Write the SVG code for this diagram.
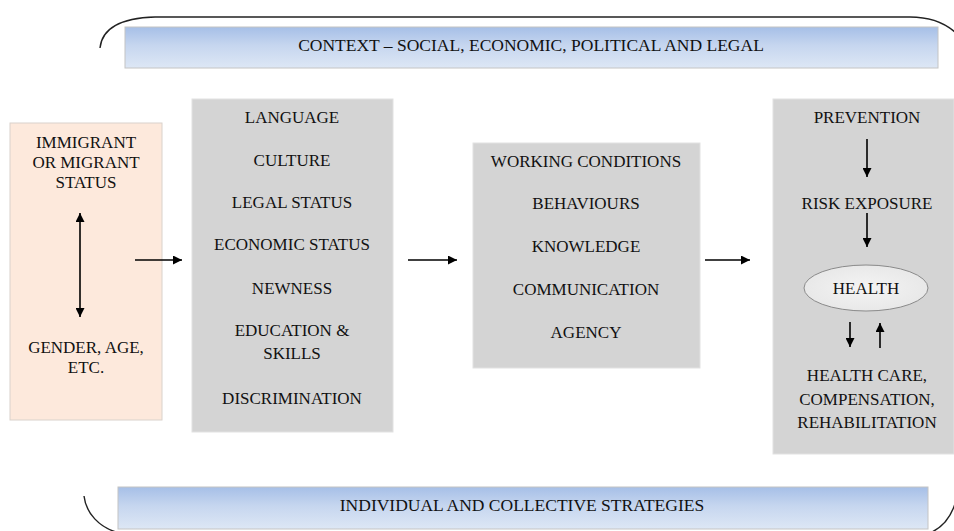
<svg xmlns="http://www.w3.org/2000/svg" width="954" height="531" viewBox="0 0 954 531">
  <defs>
    <linearGradient id="bannerFill" x1="0" y1="0" x2="0" y2="1">
      <stop offset="0" stop-color="#a6bfe7"/>
      <stop offset="0.45" stop-color="#c6d6ef"/>
      <stop offset="1" stop-color="#dde7f5"/>
    </linearGradient>
    <radialGradient id="healthFill" cx="0.5" cy="0.5" r="0.6">
      <stop offset="0" stop-color="#f4f4f4"/>
      <stop offset="1" stop-color="#e6e6e6"/>
    </radialGradient>
    <marker id="head" viewBox="0 0 10 10" markerUnits="userSpaceOnUse" markerWidth="9" markerHeight="9" refX="10" refY="5" orient="auto-start-reverse">
      <path d="M0,0 L10,5 L0,10 z" fill="#000"/>
    </marker>
  </defs>
  <style>
    text { font-family: "Liberation Serif", "Times New Roman", serif; font-size: 17px; fill: #111; text-anchor: middle; }
    .banner-text { font-size: 17.5px; }
    .banner { fill: url(#bannerFill); stroke: #c4c4c4; stroke-width: 1; }
    .grey { fill: #d4d4d4; stroke: #e2e2e2; stroke-width: 1; }
    .peach { fill: #fde9dc; stroke: #d9d2cc; stroke-width: 1; }
    .bracket { fill: none; stroke: #222; stroke-width: 1.4; }
    .arrow { fill: none; stroke: #000; stroke-width: 1.6; marker-end: url(#head); }
    .double { marker-start: url(#head); }
  </style>

  <rect width="954" height="531" fill="#ffffff"/>

  <!-- enclosing brackets -->
  <g id="brackets">
    <path class="bracket" d="M100,48 C102,28 122,18 155,17 L910,17 C930,17 944,22 956,33"/>
    <path class="bracket" d="M84,496 C86,514 100,527 116,532"/>
    <path class="bracket" d="M932,532 C944,526 952,516 956,500"/>
  </g>

  <g id="context">
    <rect class="banner" x="125" y="27" width="813" height="41"/>
    <text class="banner-text" x="531" y="51">CONTEXT – SOCIAL, ECONOMIC, POLITICAL AND LEGAL</text>
  </g>

  <g id="strategies">
    <rect class="banner" x="118" y="487" width="810" height="42"/>
    <text class="banner-text" x="522" y="511">INDIVIDUAL AND COLLECTIVE STRATEGIES</text>
  </g>

  <g id="status">
    <rect class="peach" x="10" y="123" width="152" height="297"/>
    <text x="86" y="148">IMMIGRANT</text>
    <text x="86" y="168">OR MIGRANT</text>
    <text x="86" y="188">STATUS</text>
    <text x="86" y="353">GENDER, AGE,</text>
    <text x="86" y="373">ETC.</text>
  </g>

  <g id="factors">
    <rect class="grey" x="192" y="99" width="201" height="333"/>
    <text x="292" y="123">LANGUAGE</text>
    <text x="292" y="166">CULTURE</text>
    <text x="292" y="208">LEGAL STATUS</text>
    <text x="292" y="250">ECONOMIC STATUS</text>
    <text x="292" y="294">NEWNESS</text>
    <text x="292" y="336">EDUCATION &amp;</text>
    <text x="292" y="359">SKILLS</text>
    <text x="292" y="404">DISCRIMINATION</text>
  </g>

  <g id="conditions">
    <rect class="grey" x="473" y="143" width="227" height="225"/>
    <text x="586" y="167">WORKING CONDITIONS</text>
    <text x="586" y="209">BEHAVIOURS</text>
    <text x="586" y="252">KNOWLEDGE</text>
    <text x="586" y="295">COMMUNICATION</text>
    <text x="586" y="338">AGENCY</text>
  </g>

  <g id="outcomes">
    <rect class="grey" x="773" y="99" width="181" height="355"/>
    <text x="867" y="123">PREVENTION</text>
    <text x="867" y="209">RISK EXPOSURE</text>
    <text x="867" y="381">HEALTH CARE,</text>
    <text x="867" y="405">COMPENSATION,</text>
    <text x="867" y="428">REHABILITATION</text>
  </g>

  <g id="health">
    <ellipse cx="866" cy="288" rx="62" ry="23" fill="url(#healthFill)" stroke="#8a8a8a" stroke-width="1"/>
    <text x="866" y="294">HEALTH</text>
  </g>

  <g id="connectors">
    <line class="arrow double" x1="80" y1="213" x2="80" y2="317"/>
    <line class="arrow" x1="135" y1="260" x2="182" y2="260"/>
    <line class="arrow" x1="408" y1="260" x2="457" y2="260"/>
    <line class="arrow" x1="705" y1="260" x2="750" y2="260"/>
    <line class="arrow" x1="867" y1="139" x2="867" y2="177"/>
    <line class="arrow" x1="867" y1="213" x2="867" y2="247"/>
    <line class="arrow" x1="850" y1="322" x2="850" y2="347"/>
    <line class="arrow" x1="880" y1="348" x2="880" y2="323"/>
  </g>
</svg>
